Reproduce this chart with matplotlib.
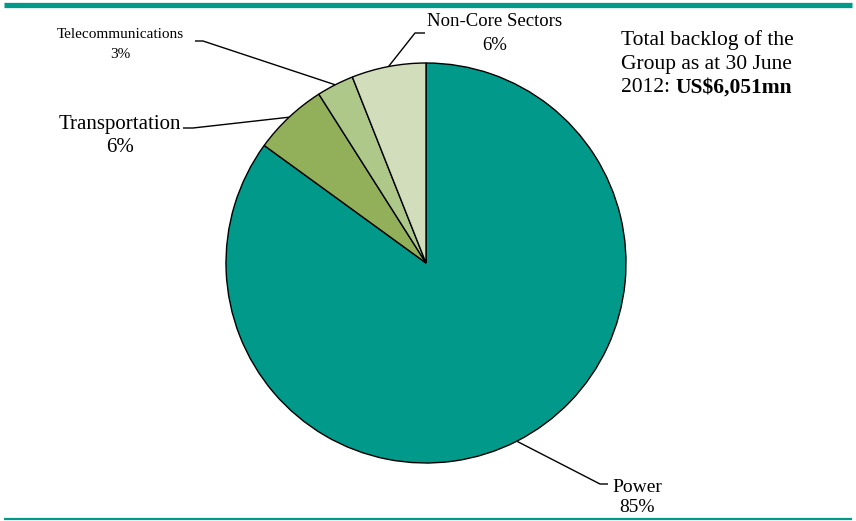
import numpy as np
import matplotlib
matplotlib.use("Agg")
import matplotlib.pyplot as plt
from matplotlib.lines import Line2D

# Backlog by sector (per cent of total)
sectors = ["Power", "Transportation", "Telecommunications", "Non-Core Sectors"]
shares = [85, 6, 3, 6]
colors = ["#00998A", "#92B05A", "#AEC88A", "#D1DDBB"]
total_text = "US$6,051mn"

W, H = 856, 521
DPI = 100
fig = plt.figure(figsize=(W / DPI, H / DPI), dpi=DPI)
fig.patch.set_facecolor("white")

# centre of the pie in pixels (from top-left) and its radius
cx, cy, R = 426, 263, 200
ax = fig.add_axes([0, 0, 1, 1])
ax.axis("off")


def P(px, py):
    """pixel position (from top-left) -> data coords"""
    return (px - cx) / R, (cy - py) / R


wedges, _ = ax.pie(shares, colors=colors, startangle=90, counterclock=False,
                   radius=1.0, center=(0, 0),
                   wedgeprops=dict(edgecolor="black", linewidth=1.0))
ax.set_xlim(-cx / R, (W - cx) / R)
ax.set_ylim(-(H - cy) / R, cy / R)
ax.set_aspect("auto")

serif = "Liberation Serif"

# label layout: elbow pixel, end pixel, text centre pixel, line gap, fontsize
layout = {
    "Power": ((600, 484), (608, 484), (637, 487), 21, 14),
    "Transportation": ((193, 128), (183, 128), (120, 125), 22, 15),
    "Telecommunications": ((203, 41), (195, 41), (120, 35), 20, 11),
    "Non-Core Sectors": ((415, 33), (425, 33), (495, 22), 23, 13.5),
}

for w, name, val in zip(wedges, sectors, shares):
    mid = np.deg2rad((w.theta1 + w.theta2) / 2)
    edge = (np.cos(mid), np.sin(mid))
    elbow_px, end_px, (x, y), gap, fs = layout[name]
    e = P(*elbow_px)
    t = P(*end_px)
    ax.plot([edge[0], e[0], t[0]], [edge[1], e[1], t[1]], color="black",
            lw=1.0, solid_capstyle="butt", zorder=3)
    ax.text(*P(x, y), name, ha="center", va="center", fontsize=fs, family=serif)
    ax.text(*P(x, y + gap), f"{val}%", ha="center", va="center",
            fontsize=fs, family=serif)

# total backlog note
fs_note = 15.5
for i, line in enumerate(["Total backlog of the", "Group as at 30 June"]):
    fig.text(621 / W, 1 - (40 + 24 * i) / H, line, fontsize=fs_note,
             family=serif, ha="left", va="center")
t1 = fig.text(621 / W, 1 - 88 / H, "2012: ", fontsize=fs_note, family=serif,
              ha="left", va="center")
fig.canvas.draw()
bb = t1.get_window_extent()
fig.text(bb.x1 / W, 1 - 88 / H, total_text, fontsize=fs_note, family=serif,
         fontweight="bold", ha="left", va="center")

# teal rules at top and bottom
teal = "#00998A"
fig.add_artist(Line2D([4 / W, 852 / W], [1 - 4.5 / H, 1 - 4.5 / H],
                      transform=fig.transFigure, color=teal, lw=3.8,
                      solid_capstyle="butt"))
fig.add_artist(Line2D([4 / W, 852 / W], [1 - 518.5 / H, 1 - 518.5 / H],
                      transform=fig.transFigure, color=teal, lw=1.6,
                      solid_capstyle="butt"))

fig.savefig("out.png", dpi=DPI, facecolor="white")
